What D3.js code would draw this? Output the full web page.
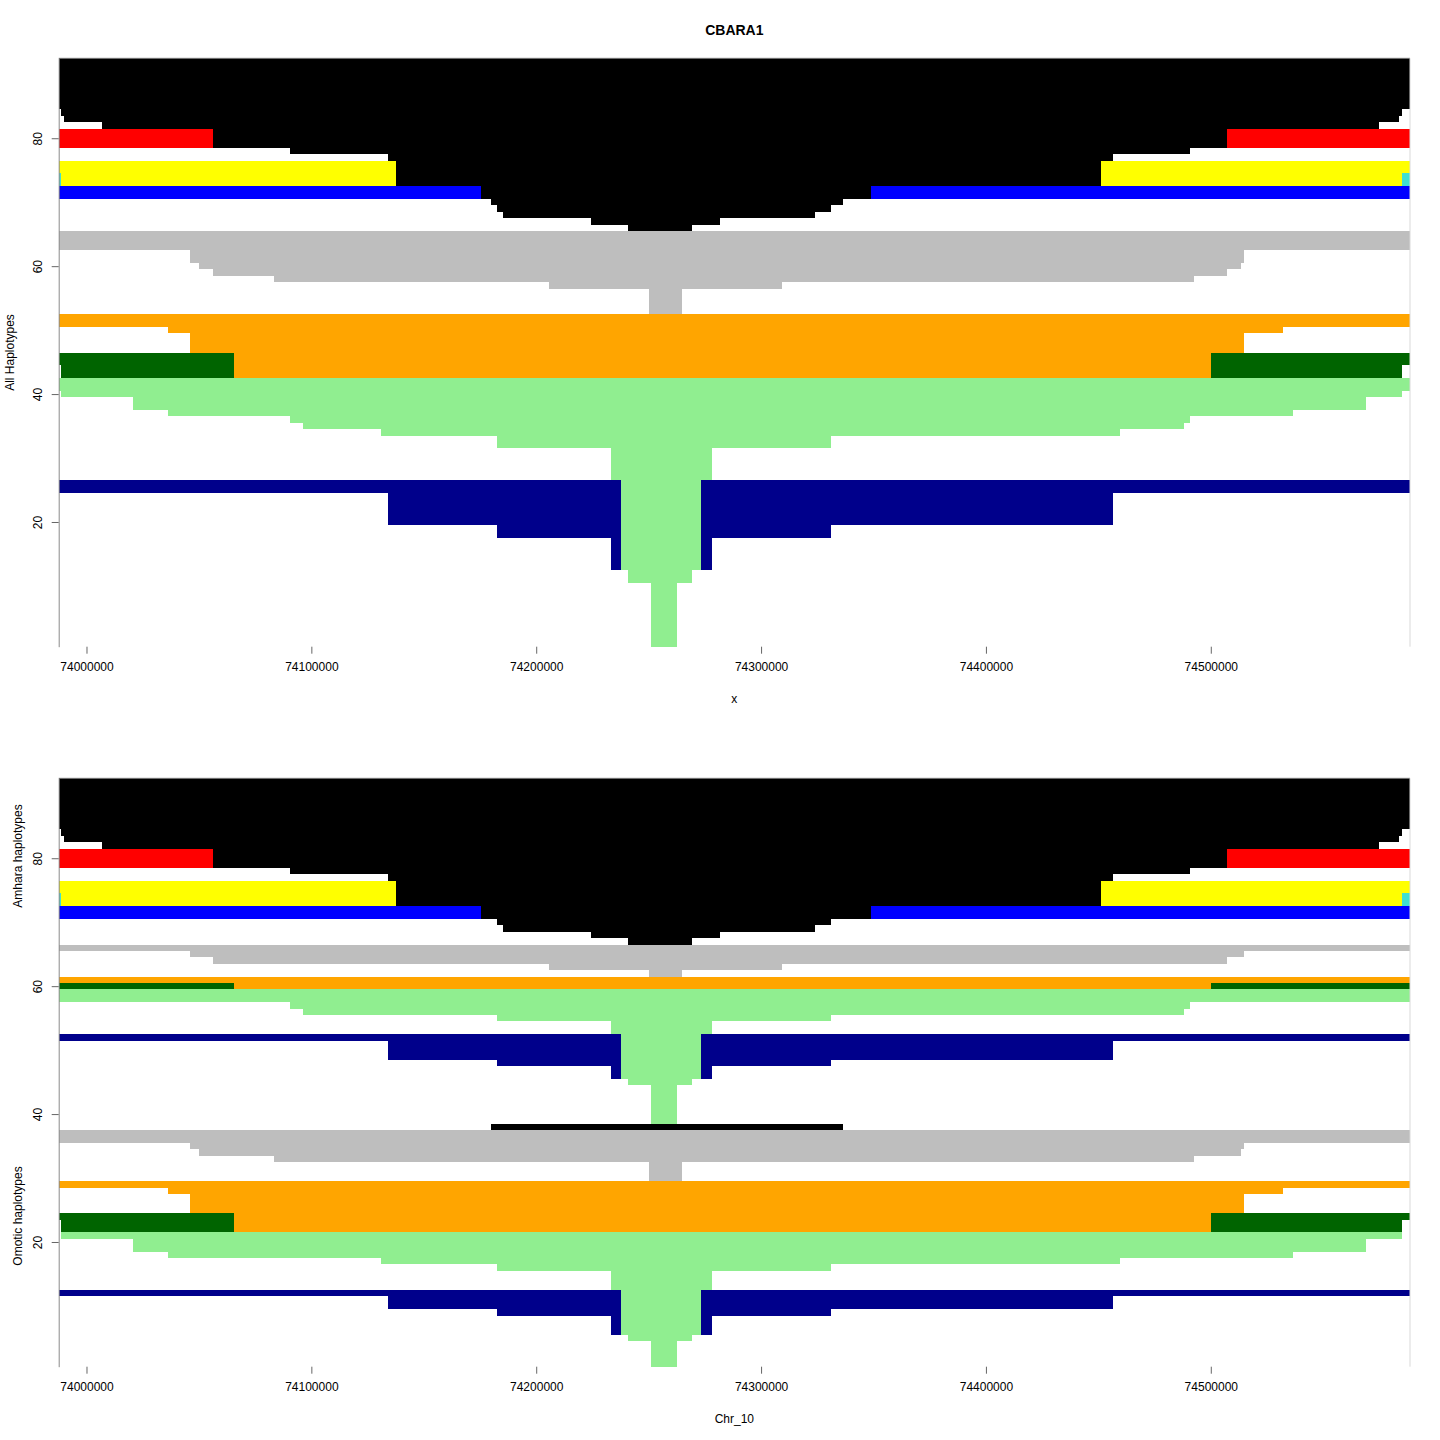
<!DOCTYPE html>
<html>
<head>
<meta charset="utf-8">
<script src="https://cdn.jsdelivr.net/npm/d3@7"></script>
<style>
  body { margin: 0; background: #fff; }
  svg text { font-family: "Liberation Sans", Arial, sans-serif; fill: #000; }
</style>
</head>
<body>
<div id="chart"></div>
<script>
// chromosome 10 window (bp) and axis ticks
var xMin = 73987640, xMax = 74588590;
var xTicks = [74000000, 74100000, 74200000, 74300000, 74400000, 74500000];
var yTicks = [20, 40, 60, 80];
var nRows = 92;

// cluster names -> R colours
var clusters = ["black", "red", "yellow", "cyan", "blue", "gray", "orange", "dgreen", "lgreen", "navy"];
var clusterColours = ["#000000", "#FF0000", "#FFFF00", "#40E0D0", "#0000FF", "#BEBEBE", "#FFA500", "#006400", "#90EE90", "#00008B"];

// [first row, last row, start bp, end bp, cluster]  (drawn in this order)
var allRows = [
  [85, 92, 73987640, 74588590, "black"],
  [84, 84, 73988660, 74585250, "black"],
  [83, 83, 73990000, 74583610, "black"],
  [82, 82, 74006890, 74574800, "black"],
  [79, 81, 73987640, 74588590, "red"],
  [79, 81, 74056260, 74507200, "black"],
  [78, 78, 74090500, 74490750, "black"],
  [77, 77, 74134080, 74456500, "black"],
  [73, 76, 73987640, 74588590, "yellow"],
  [73, 74, 73987640, 73988660, "cyan"],
  [73, 74, 74585250, 74588590, "cyan"],
  [73, 76, 74137640, 74451080, "black"],
  [71, 72, 73987640, 74588590, "blue"],
  [71, 72, 74175660, 74348880, "black"],
  [70, 70, 74179800, 74336430, "black"],
  [69, 69, 74182560, 74331050, "black"],
  [68, 68, 74185230, 74323980, "black"],
  [67, 67, 74224360, 74281730, "black"],
  [66, 66, 74240820, 74269280, "black"],
  [63, 65, 73987640, 74588590, "gray"],
  [61, 62, 74046030, 74514760, "gray"],
  [60, 60, 74050030, 74513430, "gray"],
  [59, 59, 74056260, 74507200, "gray"],
  [58, 58, 74083390, 74492530, "gray"],
  [57, 57, 74205680, 74309300, "gray"],
  [53, 56, 74250160, 74264830, "gray"],
  [51, 52, 73987640, 74588590, "orange"],
  [50, 50, 74036200, 74532110, "orange"],
  [47, 49, 74046030, 74514760, "orange"],
  [45, 46, 73987640, 74588590, "dgreen"],
  [43, 44, 73988660, 74585250, "dgreen"],
  [43, 46, 74065600, 74500090, "orange"],
  [41, 42, 73987640, 74588590, "lgreen"],
  [40, 40, 73988660, 74585250, "lgreen"],
  [38, 39, 74020680, 74568890, "lgreen"],
  [37, 37, 74036200, 74536420, "lgreen"],
  [36, 36, 74090500, 74490750, "lgreen"],
  [35, 35, 74096280, 74488080, "lgreen"],
  [34, 34, 74130970, 74459620, "lgreen"],
  [32, 33, 74182560, 74331050, "lgreen"],
  [27, 31, 74233260, 74278170, "lgreen"],
  [25, 26, 73987640, 74588590, "navy"],
  [20, 24, 74134080, 74456500, "navy"],
  [18, 19, 74182560, 74331050, "navy"],
  [13, 17, 74233260, 74278170, "navy"],
  [13, 26, 74237610, 74273280, "lgreen"],
  [11, 12, 74240820, 74269280, "lgreen"],
  [1, 10, 74251040, 74262520, "lgreen"]
];

// Amhara haplotypes, rows 39-92 of the lower panel
var amharaRows = [
  [85, 92, 73987640, 74588590, "black"],
  [84, 84, 73988660, 74585250, "black"],
  [83, 83, 73990000, 74583610, "black"],
  [82, 82, 74006890, 74574800, "black"],
  [79, 81, 73987640, 74588590, "red"],
  [79, 81, 74056260, 74507200, "black"],
  [78, 78, 74090500, 74490750, "black"],
  [77, 77, 74134080, 74456500, "black"],
  [73, 76, 73987640, 74588590, "yellow"],
  [73, 74, 73987640, 73988660, "cyan"],
  [73, 74, 74585250, 74588590, "cyan"],
  [73, 76, 74137640, 74451080, "black"],
  [71, 72, 73987640, 74588590, "blue"],
  [71, 72, 74175660, 74348880, "black"],
  [70, 70, 74182560, 74331050, "black"],
  [69, 69, 74185230, 74323980, "black"],
  [68, 68, 74224360, 74281730, "black"],
  [67, 67, 74240820, 74269280, "black"],
  [66, 66, 73987640, 74588590, "gray"],
  [65, 65, 74046030, 74514760, "gray"],
  [64, 64, 74056260, 74507200, "gray"],
  [63, 63, 74205680, 74309300, "gray"],
  [62, 62, 74250160, 74264830, "gray"],
  [61, 61, 73987640, 74588590, "orange"],
  [60, 60, 73987640, 74588590, "dgreen"],
  [60, 60, 74065600, 74500090, "orange"],
  [58, 59, 73987640, 74588590, "lgreen"],
  [57, 57, 74090500, 74490750, "lgreen"],
  [56, 56, 74096280, 74488080, "lgreen"],
  [55, 55, 74182560, 74331050, "lgreen"],
  [53, 54, 74233260, 74278170, "lgreen"],
  [52, 52, 73987640, 74588590, "navy"],
  [49, 51, 74134080, 74456500, "navy"],
  [48, 48, 74182560, 74331050, "navy"],
  [46, 47, 74233260, 74278170, "navy"],
  [46, 52, 74237610, 74273280, "lgreen"],
  [45, 45, 74240820, 74269280, "lgreen"],
  [39, 44, 74251040, 74262520, "lgreen"]
];

// Omotic haplotypes, rows 1-38 of the lower panel
var omoticRows = [
  [38, 38, 74179800, 74336430, "black"],
  [36, 37, 73987640, 74588590, "gray"],
  [35, 35, 74046030, 74514760, "gray"],
  [34, 34, 74050030, 74513430, "gray"],
  [33, 33, 74083390, 74492530, "gray"],
  [30, 32, 74250160, 74264830, "gray"],
  [29, 29, 73987640, 74588590, "orange"],
  [28, 28, 74036200, 74532110, "orange"],
  [25, 27, 74046030, 74514760, "orange"],
  [24, 24, 73987640, 74588590, "dgreen"],
  [22, 23, 73988660, 74585250, "dgreen"],
  [22, 24, 74065600, 74500090, "orange"],
  [21, 21, 73988660, 74585250, "lgreen"],
  [19, 20, 74020680, 74568890, "lgreen"],
  [18, 18, 74036200, 74536420, "lgreen"],
  [17, 17, 74130970, 74459620, "lgreen"],
  [16, 16, 74182560, 74331050, "lgreen"],
  [13, 15, 74233260, 74278170, "lgreen"],
  [12, 12, 73987640, 74588590, "navy"],
  [10, 11, 74134080, 74456500, "navy"],
  [9, 9, 74182560, 74331050, "navy"],
  [6, 8, 74233260, 74278170, "navy"],
  [6, 12, 74237610, 74273280, "lgreen"],
  [5, 5, 74240820, 74269280, "lgreen"],
  [1, 4, 74251040, 74262520, "lgreen"]
];

var svgWidth = 1440;
var svgHeight = 1440;
var plotLeft = 58.7, plotRight = 1410;
var panelHeight = 588.4;

var svg = d3.select("#chart")
  .append("svg")
  .attr("width", svgWidth)
  .attr("height", svgHeight);

var colour = d3.scaleOrdinal().domain(clusters).range(clusterColours);

var xScale = d3.scaleLinear()
  .domain([xMin, xMax])
  .range([plotLeft, plotRight]);

// one panel: rows, axes and the frame lines
function drawPanel(top, rows, xlab) {
  var yScale = d3.scaleLinear()
    .domain([0.5, nRows + 0.5])
    .range([top + panelHeight, top]);

  var g = svg.append("g");

  g.append("g")
    .selectAll("rect")
    .data(rows)
    .enter()
    .append("rect")
    .attr("x", d => xScale(d[2]))
    .attr("width", d => xScale(d[3]) - xScale(d[2]))
    .attr("y", d => yScale(d[1] + 0.5))
    .attr("height", d => yScale(d[0] - 0.5) - yScale(d[1] + 0.5))
    .attr("fill", d => colour(d[4]))
    .attr("shape-rendering", "crispEdges");

  // frame: grey top, light grey right
  g.append("line")
    .attr("x1", plotLeft).attr("x2", plotRight)
    .attr("y1", top).attr("y2", top)
    .attr("stroke", "#8a8a8a");
  g.append("line")
    .attr("x1", plotRight).attr("x2", plotRight)
    .attr("y1", top).attr("y2", top + panelHeight)
    .attr("stroke", "#d9d9d9");

  var leftAxis = d3.axisLeft(yScale).tickValues(yTicks).tickSize(7).tickSizeOuter(0);
  var ay = g.append("g")
    .attr("transform", `translate(${plotLeft}, 0)`)
    .call(leftAxis);
  ay.select(".domain").attr("stroke", "#8a8a8a");
  ay.selectAll(".tick line").attr("stroke", "#666");
  // R style: labels turned parallel to the axis
  ay.selectAll(".tick text")
    .attr("font-size", 12)
    .attr("x", null)
    .attr("dy", "0.35em")
    .attr("transform", "translate(-21, 0) rotate(-90)")
    .style("text-anchor", "middle");

  var bottomAxis = d3.axisBottom(xScale).tickValues(xTicks).tickFormat(d3.format("d")).tickSize(7).tickPadding(9);
  var ax = g.append("g")
    .attr("transform", `translate(0, ${top + panelHeight})`)
    .call(bottomAxis);
  ax.select(".domain").remove();
  ax.selectAll(".tick line").attr("stroke", "#666");
  ax.selectAll(".tick text").attr("font-size", 12);

  g.append("text")
    .attr("x", (plotLeft + plotRight) / 2)
    .attr("y", top + panelHeight + 56)
    .attr("text-anchor", "middle")
    .attr("font-size", 12)
    .text(xlab);

  return yScale;
}

var topY = 58.3;
var bottomY = 778.3;

drawPanel(topY, allRows, "x");
drawPanel(bottomY, amharaRows.concat(omoticRows), "Chr_10");

svg.append("text")
  .attr("x", (plotLeft + plotRight) / 2)
  .attr("y", 35)
  .attr("text-anchor", "middle")
  .attr("font-size", 14)
  .attr("font-weight", "bold")
  .text("CBARA1");

function yLabel(x, y, label) {
  svg.append("text")
    .attr("transform", `translate(${x}, ${y}) rotate(-90)`)
    .attr("text-anchor", "middle")
    .attr("dy", "0.35em")
    .attr("font-size", 12)
    .text(label);
}

yLabel(10, topY + panelHeight / 2, "All Haplotypes");
yLabel(18, 856, "Amhara haplotypes");
yLabel(18, 1216, "Omotic haplotypes");
</script>
</body>
</html>
